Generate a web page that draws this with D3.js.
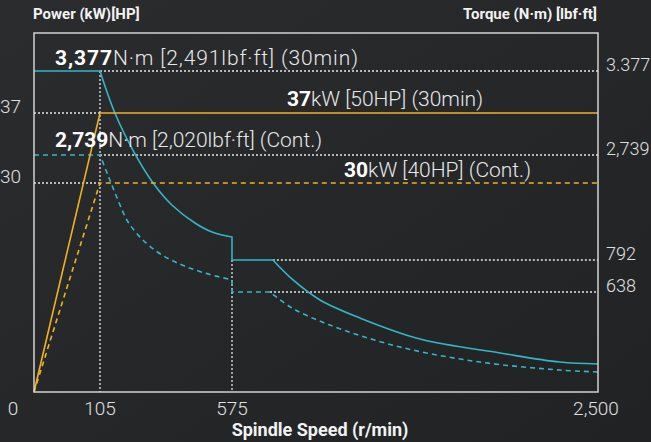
<!DOCTYPE html>
<html>
<head>
<meta charset="utf-8">
<script src="https://cdn.jsdelivr.net/npm/d3@7/dist/d3.min.js"></script>
<style>
html,body{margin:0;padding:0;background:#252729;}
svg{display:block;}
text{font-family:Roboto, "Noto Sans", sans-serif;}
</style>
</head>
<body>
<svg id="chart" width="651" height="442"></svg>
<script>
// ---------- data ----------
const speedTicks = [0, 105, 575, 2500];
const speedTickLabels = ["0", "105", "575", "2,500"];
const torqueTicks = [3377, 2739, 792, 638];
const torqueTickLabels = ["3.377", "2,739", "792", "638"];
const powerTicks = [37, 30];
const powerTickLabels = ["37", "30"];

// 30-min torque (N·m)
const torque30Flat = {speed: [0, 105], value: [3377, 3377]};
const torque30Decay1 = {speed: [105, 158, 226, 294, 361, 443, 504, 575], value: [3377, 3058, 2761, 2220, 1812, 1478, 1311, 1219]};
const torque30Step = {speed: [575, 575, 790], value: [1219, 792, 792]};
const torque30Decay2 = {speed: [790, 896, 1038, 1248, 1564, 1985, 2300, 2500], value: [792, 696, 587, 472, 338, 249, 191, 179]};
// continuous torque (N·m)
const torqueContFlat = {speed: [0, 105], value: [2739, 2739]};
const torqueContDecay1 = {speed: [105, 133, 166, 205, 265, 326, 397, 479, 575], value: [2739, 2368, 1942, 1497, 1126, 885, 768, 729, 696]};
const torqueContStep = {speed: [575, 575, 775], value: [696, 638, 638]};
const torqueContDecay2 = {speed: [775, 891, 1090, 1459, 1880, 2300, 2500], value: [638, 536, 427, 287, 191, 140, 128]};
// power (kW)
const power30 = {speed: [0, 105, 2500], value: [0, 37, 37]};
const powerCont = {speed: [0, 105, 2500], value: [0, 30, 30]};

// ---------- scales ----------
const svg = d3.select("#chart");
const x = d3.scaleLinear().domain([0, 105, 575, 2500]).range([34, 100, 232, 598]);
const yT = d3.scaleLinear().domain([0, 638, 792, 2739, 3377]).range([392, 292, 260, 155, 71]);
const yP = d3.scaleLinear().domain([0, 30, 37]).range([392, 183, 113]);

const CYAN = "#33b6c8", ORANGE = "#f0b21e", GUIDE = "#e6e6e6";

// background
const defs = svg.append("defs");
const g0 = defs.append("linearGradient").attr("id", "bg").attr("x1", 0).attr("y1", 0).attr("x2", 1).attr("y2", 1);
g0.append("stop").attr("offset", "0%").attr("stop-color", "#2a2c2e");
g0.append("stop").attr("offset", "100%").attr("stop-color", "#202224");
svg.append("rect").attr("width", 651).attr("height", 442).attr("fill", "url(#bg)");

// ---------- guides (dotted) ----------
const guides = [
  {x0: 105, x1: 2500, t: 3377},
  {x0: 105, x1: 2500, t: 2739},
  {x0: 790, x1: 2500, t: 792},
  {x0: 775, x1: 2500, t: 638}
];
const pguides = [{x0: 0, x1: 105, p: 37}, {x0: 0, x1: 105, p: 30}];
const gg = svg.append("g").attr("stroke", GUIDE).attr("stroke-width", 1.3).attr("stroke-dasharray", "2,2").attr("fill", "none");
guides.forEach(d => gg.append("line").attr("x1", x(d.x0)).attr("x2", x(d.x1)).attr("y1", yT(d.t)).attr("y2", yT(d.t)));
pguides.forEach(d => gg.append("line").attr("x1", x(d.x0)).attr("x2", x(d.x1)).attr("y1", yP(d.p)).attr("y2", yP(d.p)));
gg.append("line").attr("x1", x(105)).attr("x2", x(105)).attr("y1", yT(3377)).attr("y2", yT(0));
gg.append("line").attr("x1", x(575)).attr("x2", x(575)).attr("y1", yT(792)).attr("y2", yT(0));

// ---------- curves ----------
function pts(s) { return s.speed.map((v, i) => [v, s.value[i]]); }
const lineT = d3.line().x(d => x(d[0])).y(d => yT(d[1]));
const curveT = d3.line().x(d => x(d[0])).y(d => yT(d[1])).curve(d3.curveCatmullRom.alpha(0.5));
const lineP = d3.line().x(d => x(d[0])).y(d => yP(d[1]));

function drawTorque(parts, dash) {
  const d = lineT(pts(parts[0])) + curveT(pts(parts[1])).replace(/^M/, "L") +
            lineT(pts(parts[2])).replace(/^M/, "L") + curveT(pts(parts[3])).replace(/^M/, "L");
  svg.append("path").attr("d", d).attr("fill", "none").attr("stroke", CYAN)
    .attr("stroke-width", 1.6).attr("stroke-dasharray", dash);
}
drawTorque([torqueContFlat, torqueContDecay1, torqueContStep, torqueContDecay2], "5,4");
drawTorque([torque30Flat, torque30Decay1, torque30Step, torque30Decay2], null);

svg.append("path").attr("d", lineP(pts(powerCont))).attr("fill", "none").attr("stroke", ORANGE)
  .attr("stroke-width", 1.6).attr("stroke-dasharray", "5,4");
svg.append("path").attr("d", lineP(pts(power30))).attr("fill", "none").attr("stroke", ORANGE)
  .attr("stroke-width", 1.6);

// frame
svg.append("path").attr("d", `M${x(0)},33 V${yT(0)} H${x(2500)} V33 Z`).attr("fill", "none")
  .attr("stroke", "#d2d2d2").attr("stroke-width", 1.5);

// ---------- tick labels ----------
const tickStyle = s => s.attr("fill", "#e0e0e0").attr("font-size", 19).attr("font-weight", 300);
svg.selectAll(".tl").data(torqueTicks).enter().append("text")
  .attr("x", 606).attr("y", d => yT(d)).text((d, i) => torqueTickLabels[i]).call(tickStyle)
  .attr("font-size", 18);
svg.selectAll(".pl").data(powerTicks).enter().append("text")
  .attr("x", 0).attr("y", d => yP(d)).text((d, i) => powerTickLabels[i]).call(tickStyle);
svg.selectAll(".xl").data(speedTicks).enter().append("text")
  .attr("x", (d, i) => i === 0 ? 13 : (i === 3 ? 596 : x(d))).attr("y", 415)
  .attr("text-anchor", "middle").text((d, i) => speedTickLabels[i]).call(tickStyle);

// axis titles
svg.append("text").attr("x", 33).attr("y", 19).attr("font-size", 15).attr("font-weight", 700)
  .attr("fill", "#f2f2f2").text("Power (kW)[HP]");
svg.append("text").attr("x", 597).attr("y", 19).attr("font-size", 15).attr("font-weight", 700)
  .attr("text-anchor", "end").attr("fill", "#f2f2f2").text("Torque (N·m) [lbf·ft]");
svg.append("text").attr("x", 320).attr("y", 436).attr("font-size", 18).attr("font-weight", 700)
  .attr("text-anchor", "middle").attr("fill", "#f2f2f2").text("Spindle Speed (r/min)");

// annotations
const notes = [
  {x: 55, y: 65, w: 303, bold: "3,377", rest: "N·m [2,491lbf·ft] (30min)"},
  {x: 287, y: 106, w: 196, bold: "37", rest: "kW [50HP] (30min)"},
  {x: 55, y: 147, w: 267, bold: "2,739", rest: "N·m [2,020lbf·ft] (Cont.)"},
  {x: 344, y: 177, w: 187, bold: "30", rest: "kW [40HP] (Cont.)"}
];
notes.forEach(n => {
  const t = svg.append("text").attr("x", n.x).attr("y", n.y).attr("font-size", 21).attr("fill", "#e8e8e8")
    .attr("textLength", n.w).attr("lengthAdjust", "spacing");
  t.append("tspan").attr("font-weight", 700).attr("fill", "#ffffff").text(n.bold);
  t.append("tspan").attr("font-weight", 300).text(n.rest);
});
</script>
</body>
</html>
